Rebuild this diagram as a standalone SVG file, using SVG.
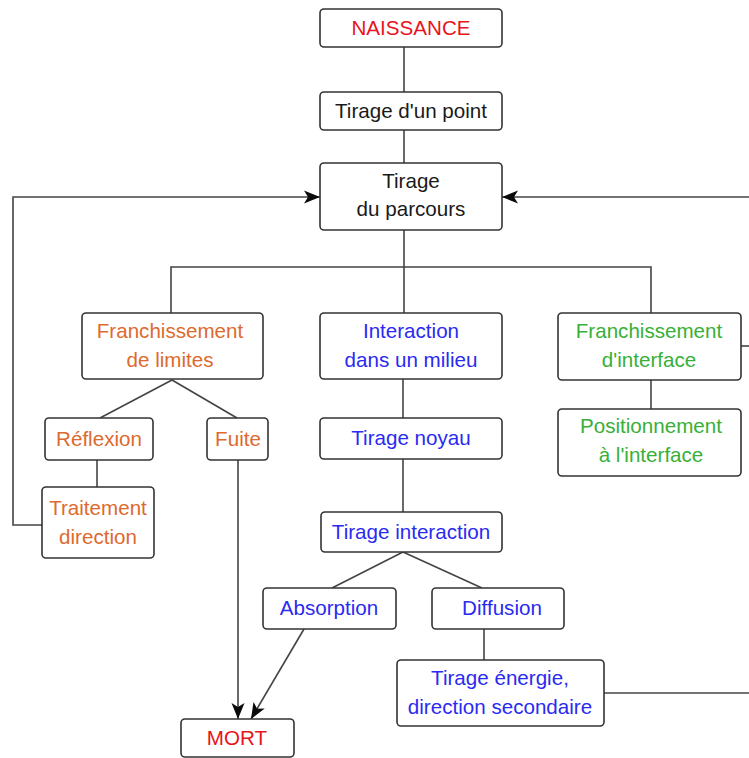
<svg xmlns="http://www.w3.org/2000/svg" width="749" height="758" viewBox="0 0 749 758">
<style>
.box{fill:#ffffff;stroke:#333333;stroke-width:1.6}
.t{font-family:"Liberation Sans",Arial,sans-serif;font-size:20.6px;text-anchor:middle}
.k{fill:#1a1a1a}
.r{fill:#e8141c}
.o{fill:#dd6a2e}
.b{fill:#2a2af2}
.g{fill:#38b038}
.c{fill:none;stroke:#444444;stroke-width:1.6}
</style>
<defs>
<marker id="ah" markerUnits="userSpaceOnUse" markerWidth="18" markerHeight="14" refX="16" refY="7" orient="auto">
<path d="M0,0.5 L16,7 L0,13.5 L4,7 Z" fill="#0a0a0a"/>
</marker>
</defs>
<g id="connectors">
<path class="c" d="M404,47 V92"/>
<path class="c" d="M404,130 V163"/>
<path class="c" d="M404,230 V313"/>
<path class="c" d="M171,313 V267 H651 V313"/>
<path class="c" d="M172,380 L100,418"/>
<path class="c" d="M172,380 L237,418"/>
<path class="c" d="M97,460 V487"/>
<path class="c" d="M42,525 H13 V197 H320" marker-end="url(#ah)"/>
<path class="c" d="M749,197 H502" marker-end="url(#ah)"/>
<path class="c" d="M741,346 H749"/>
<path class="c" d="M651,380 V409"/>
<path class="c" d="M403,379 V418"/>
<path class="c" d="M403,459 V512"/>
<path class="c" d="M403,552 L332,588"/>
<path class="c" d="M403,552 L482,588"/>
<path class="c" d="M484,629 V660"/>
<path class="c" d="M604,693 H749"/>
<path class="c" d="M238,460 V719" marker-end="url(#ah)"/>
<path class="c" d="M304,629 L251,719" marker-end="url(#ah)"/>
</g>
<g id="naissance"><rect class="box" x="320" y="9" width="182" height="38" rx="4"/><text class="t r" x="411" y="35">NAISSANCE</text></g>
<g id="tirage-point"><rect class="box" x="320" y="92" width="182" height="38" rx="4"/><text class="t k" x="411" y="118">Tirage d'un point</text></g>
<g id="tirage-parcours"><rect class="box" x="320" y="163" width="182" height="67" rx="4"/><text class="t k" x="411" y="188">Tirage</text><text class="t k" x="411" y="216">du parcours</text></g>
<g id="franchissement-limites"><rect class="box" x="82" y="313" width="181" height="66" rx="4"/><text class="t o" x="170" y="338">Franchissement</text><text class="t o" x="170" y="367">de limites</text></g>
<g id="interaction-milieu"><rect class="box" x="320" y="313" width="182" height="66" rx="4"/><text class="t b" x="411" y="338">Interaction</text><text class="t b" x="411" y="367">dans un milieu</text></g>
<g id="franchissement-interface"><rect class="box" x="558" y="313" width="183" height="67" rx="4"/><text class="t g" x="649" y="338">Franchissement</text><text class="t g" x="649" y="367">d'interface</text></g>
<g id="positionnement-interface"><rect class="box" x="558" y="409" width="183" height="67" rx="4"/><text class="t g" x="651" y="433">Positionnement</text><text class="t g" x="651" y="462">à l'interface</text></g>
<g id="reflexion"><rect class="box" x="45" y="418" width="108" height="42" rx="4"/><text class="t o" x="99" y="446">Réflexion</text></g>
<g id="fuite"><rect class="box" x="207" y="418" width="61" height="42" rx="4"/><text class="t o" x="238" y="446">Fuite</text></g>
<g id="tirage-noyau"><rect class="box" x="320" y="418" width="182" height="41" rx="4"/><text class="t b" x="411" y="445">Tirage noyau</text></g>
<g id="traitement-direction"><rect class="box" x="42" y="487" width="112" height="71" rx="4"/><text class="t o" x="98" y="515">Traitement</text><text class="t o" x="98" y="544">direction</text></g>
<g id="tirage-interaction"><rect class="box" x="321" y="512" width="181" height="40" rx="4"/><text class="t b" x="411" y="539">Tirage interaction</text></g>
<g id="absorption"><rect class="box" x="263" y="588" width="133" height="41" rx="4"/><text class="t b" x="329" y="615">Absorption</text></g>
<g id="diffusion"><rect class="box" x="432" y="588" width="132" height="41" rx="4"/><text class="t b" x="502" y="615">Diffusion</text></g>
<g id="tirage-energie"><rect class="box" x="397" y="660" width="207" height="66" rx="4"/><text class="t b" x="500" y="685">Tirage énergie,</text><text class="t b" x="500" y="714">direction secondaire</text></g>
<g id="mort"><rect class="box" x="181" y="719" width="113" height="38" rx="4"/><text class="t r" x="237" y="745">MORT</text></g>
</svg>
